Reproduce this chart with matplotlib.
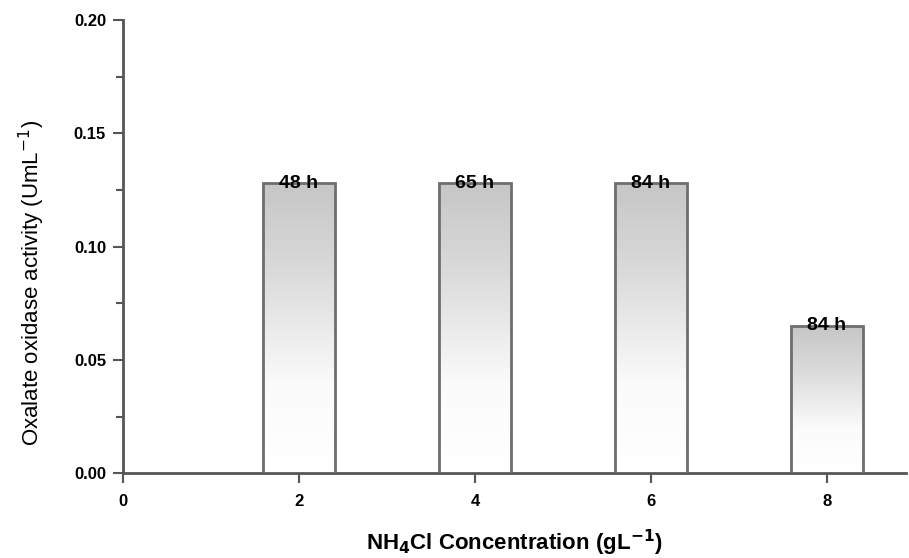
import matplotlib.pyplot as plt
import numpy as np
from matplotlib.colors import LinearSegmentedColormap

conc = [2, 4, 6, 8]
activity = [0.128, 0.128, 0.128, 0.065]
labels = ['48 h', '65 h', '84 h', '84 h']

plt.rcParams['font.family'] = ['Liberation Sans', 'DejaVu Sans']

fig = plt.figure(figsize=(9.09, 5.58), dpi=100)
ax = fig.add_axes([0.135, 0.152, 0.862, 0.812])

bars = ax.bar(conc, activity, width=0.82, facecolor='none', edgecolor='#6e6e6e',
              linewidth=2, zorder=3)

# vertical gradient: grey at top fading to white near the bottom
cmap = LinearSegmentedColormap.from_list('g', [(0, '#ffffff'), (0.3, '#fbfbfb'), (0.7, '#dadada'), (1, '#c6c6c6')])
grad = np.linspace(0, 1, 256).reshape(-1, 1)
for b in bars:
    x0, y0 = b.get_x(), b.get_y()
    w, h = b.get_width(), b.get_height()
    im = ax.imshow(grad, cmap=cmap, aspect='auto', origin='lower',
                   extent=[x0, x0 + w, y0, y0 + h], zorder=2)
    im.set_clip_path(b)

for xc, v, t in zip(conc, activity, labels):
    ax.text(xc, v, t, ha='center', va='center', fontsize=14, fontweight='bold', zorder=4)

ax.set_xlim(0, 8.9)
ax.set_ylim(0, 0.2)
ax.set_xticks([0, 2, 4, 6, 8])
ax.set_yticks([0, 0.05, 0.10, 0.15, 0.20])
ax.set_yticklabels(['0.00', '0.05', '0.10', '0.15', '0.20'])
ax.set_yticks(np.arange(0.025, 0.2, 0.05), minor=True)
for lbl in ax.get_xticklabels() + ax.get_yticklabels():
    lbl.set_fontweight('bold')
ax.tick_params(axis='both', direction='out', length=7, width=1.5, color='#555555', labelsize=12)
ax.tick_params(axis='y', which='minor', length=5, width=1.5, color='#555555')
ax.tick_params(axis='x', pad=8)
ax.tick_params(axis='y', pad=5)

for s in ['top', 'right']:
    ax.spines[s].set_visible(False)
for s in ['left', 'bottom']:
    ax.spines[s].set_linewidth(2)
    ax.spines[s].set_color('#555555')

ax.set_xlabel(r'NH$_\mathbf{4}$Cl Concentration (gL$^{\mathbf{-1}}$)', fontsize=16, fontweight='bold')
ax.xaxis.set_label_coords(0.5, -0.121)
ax.set_ylabel(r'Oxalate oxidase activity (UmL$^{-1}$)', fontsize=16)
ax.yaxis.set_label_coords(-0.097, 0.42)

fig.savefig('out.png', dpi=100)
